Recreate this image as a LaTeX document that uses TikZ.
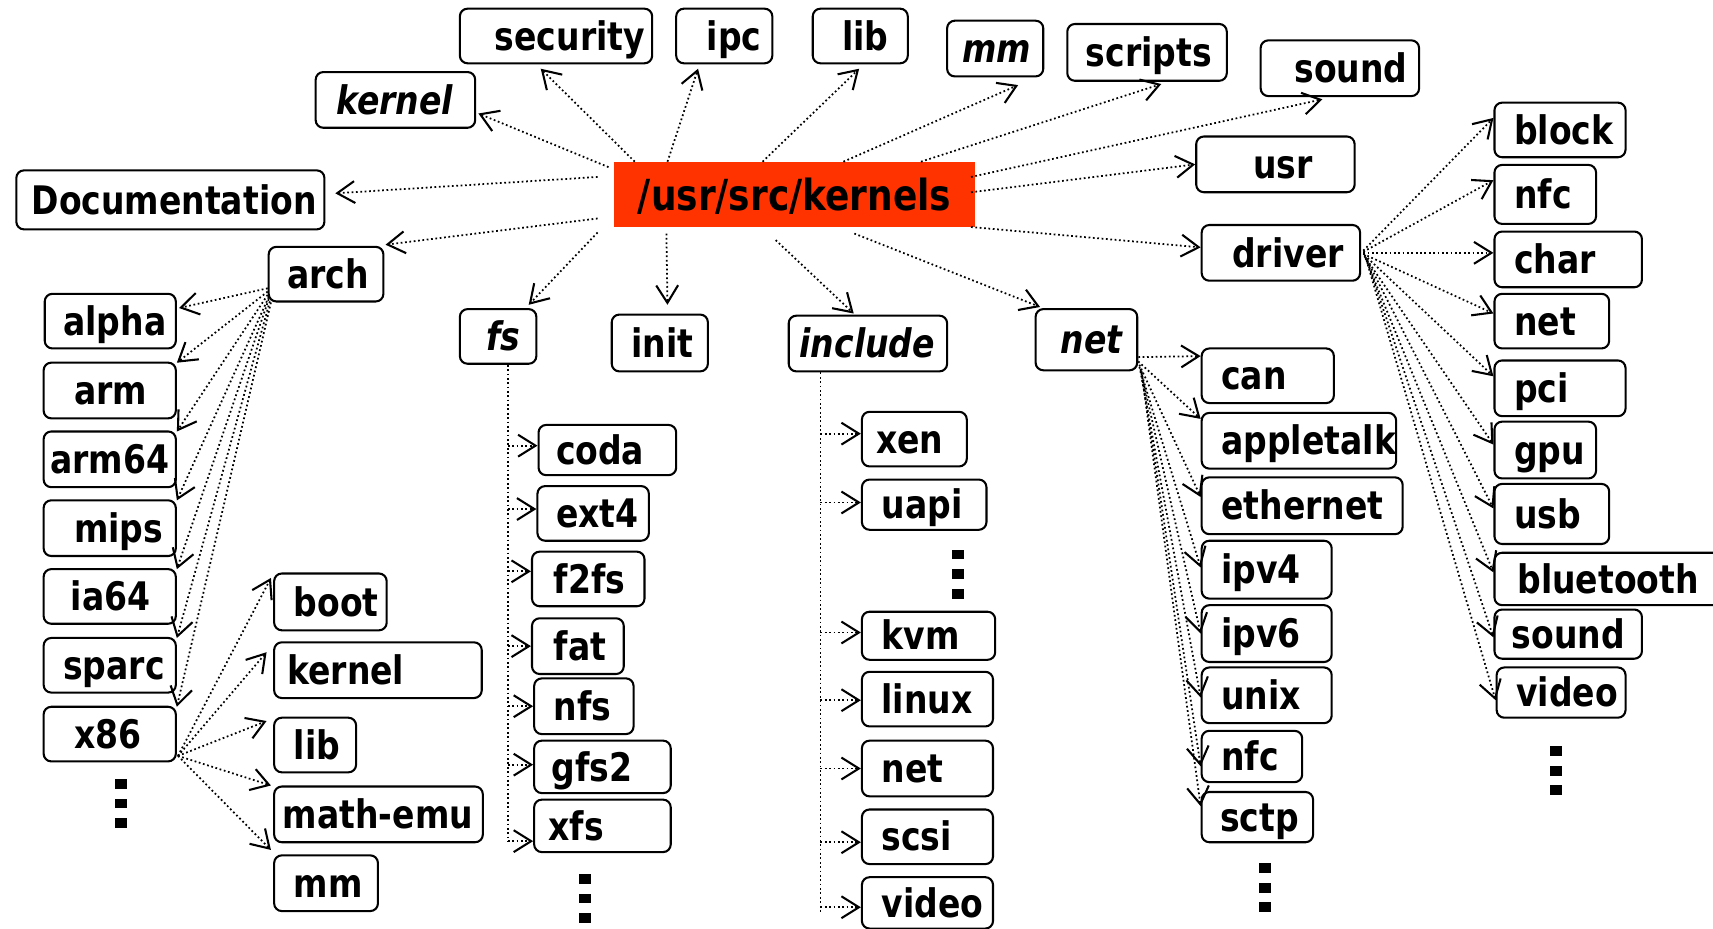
\documentclass[tikz,border=0pt]{standalone}
\usepackage{fontspec}
\newfontfamily\bxfont{DejaVu Sans}[FakeStretch=0.84]
\usetikzlibrary{arrows.meta}
\definecolor{rootred}{RGB}{255,51,0}
\newcommand\dbox[8][]{%
  \pgfmathsetmacro\bw{(#5-#3)*0.5}%
  \pgfmathsetmacro\bh{(#6-#4)*0.5}%
  \pgfmathsetmacro\bp{#7*0.5}%
  \node[box,#1,minimum width=\bw pt,minimum height=\bh pt,anchor=north west] (#2) at (#3,#4) {\makebox[\bw pt][l]{\hspace*{\bp pt}#8}};%
}
\newcommand\sqdots[2]{%
  \fill (#1,#2) rectangle ++(11,9);
  \fill (#1,#2+18) rectangle ++(11,9);
  \fill (#1,#2+36) rectangle ++(11,9);
}
\begin{document}
\begin{tikzpicture}[x=0.5pt,y=-0.5pt,
  box/.style={draw, line width=0.95pt, rounded corners=3.5pt, inner sep=0pt,
    text height=13pt, text depth=0pt,
    font=\bxfont\bfseries\fontsize{18}{20}\selectfont},
  it/.style={font=\bxfont\bfseries\itshape\fontsize{18}{20}\selectfont},
  dl/.style={line width=0.8pt, dash pattern=on 0.8pt off 1.2pt},
  arr/.style={dl, -{Straight Barb[length=8pt,width=10pt,line width=0.95pt]}},
]
\path[use as bounding box, fill=white] (0,0) rectangle (1568,850);

% root
\node[fill=rootred, inner sep=0pt, minimum width=165pt, minimum height=29.5pt,
  anchor=north west, text height=15pt, text depth=0pt,
  font=\bxfont\bfseries\fontsize{19.6}{22}\selectfont] (root) at (562,148) {/usr/src/kernels};

% top level
\dbox{sec}{420}{7}{596}{57}{32}{security}
\dbox{ipc}{618}{7}{706}{57}{28}{ipc}
\dbox{libt}{743}{7}{830}{57}{27}{lib}
\dbox[it]{mmt}{866}{18}{954}{69}{14}{mm}
\dbox{scr}{976}{21}{1122}{73}{17}{scripts}
\dbox{snd}{1153}{36}{1298}{87}{31}{sound}
\dbox[it]{kern}{288}{65}{434}{116}{19}{kernel}
\dbox{doc}{14}{155}{296}{209}{14}{Documentation}
\dbox{usr}{1094}{124}{1239}{175}{52}{usr}
\dbox{drv}{1099}{205}{1244}{256}{28}{driver}
\dbox{arch}{245}{225}{350}{275}{17}{arch}
\dbox[it]{fs}{420}{282}{490}{332}{24}{fs}
\dbox{init}{559}{287}{647}{339}{18}{init}
\dbox[it]{incl}{721}{288}{866}{339}{10}{include}
\dbox[it]{net}{947}{282}{1040}{338}{23}{net}

% arch children
\dbox{alpha}{40}{268}{160}{318}{17}{alpha}
\dbox{arm}{39}{331}{160}{382}{28}{arm}
\dbox{armsf}{39}{394}{160}{445}{6}{arm64}
\dbox{mips}{39}{457}{160}{508}{28}{mips}
\dbox{ia}{39}{520}{160}{570}{25}{ia64}
\dbox{sparc}{39}{583}{160}{633}{18}{sparc}
\dbox{xes}{39}{646}{160}{696}{28}{x86}
\sqdots{105}{713}

% x86 children
\dbox{boot}{250}{524}{353}{576}{18}{boot}
\dbox{xkern}{250}{587}{440}{638}{12}{kernel}
\dbox{xlib}{250}{656}{325}{706}{18}{lib}
\dbox{memu}{250}{719}{441}{770}{8}{math-emu}
\dbox{xmm}{250}{782}{345}{833}{18}{mm}

% fs children
\dbox{coda}{492}{388}{618}{434}{16}{coda}
\dbox{ext}{491}{444}{593}{494}{17}{ext4}
\dbox{ftfs}{486}{504}{589}{554}{20}{f2fs}
\dbox{fat}{486}{565}{570}{616}{20}{fat}
\dbox{nfs}{488}{620}{579}{671}{18}{nfs}
\dbox{gfs}{488}{677}{613}{725}{16}{gfs2}
\dbox{xfs}{488}{731}{613}{779}{13}{xfs}
\sqdots{530}{800}

% include children
\dbox{xen}{788}{376}{884}{426}{13}{xen}
\dbox{uapi}{788}{438}{902}{484}{18}{uapi}
\sqdots{871}{503}
\dbox{kvm}{788}{559}{910}{603}{18}{kvm}
\dbox{linux}{788}{614}{908}{664}{18}{linux}
\dbox{inet}{788}{677}{908}{728}{18}{net}
\dbox{scsi}{788}{740}{908}{790}{18}{scsi}
\dbox{ivid}{788}{802}{908}{849}{18}{video}

% net children
\dbox{can}{1099}{318}{1220}{368}{18}{can}
\dbox{atalk}{1099}{377}{1277}{428}{18}{appletalk}
\dbox{eth}{1099}{436}{1283}{488}{18}{ethernet}
\dbox{ipf}{1099}{494}{1218}{547}{18}{ipv4}
\dbox{ips}{1099}{553}{1218}{605}{18}{ipv6}
\dbox{unix}{1099}{610}{1218}{661}{18}{unix}
\dbox{nnfc}{1099}{668}{1191}{715}{18}{nfc}
\dbox{sctp}{1099}{724}{1201}{770}{17}{sctp}
\sqdots{1152}{790}

% driver children
\dbox{block}{1367}{93}{1487}{143}{18}{block}
\dbox{dnfc}{1367}{150}{1460}{204}{18}{nfc}
\dbox{char}{1367}{211}{1502}{262}{18}{char}
\dbox{dnet}{1367}{268}{1472}{318}{18}{net}
\dbox{pci}{1367}{329}{1487}{380}{18}{pci}
\dbox{gpu}{1367}{385}{1460}{437}{18}{gpu}
\dbox{usb}{1367}{442}{1472}{497}{18}{usb}
\dbox{bt}{1367}{505}{1580}{553}{21}{bluetooth}
\dbox{dsnd}{1367}{557}{1502}{602}{16}{sound}
\dbox{dvid}{1369}{610}{1487}{656}{18}{video}
\sqdots{1419}{683}

% root arrows
\draw[arr] ([shift={(-5,5)}]root.north west) -- ([shift={(2,-14)}]kern.south east);
\draw[arr] ([shift={(19,0)}]root.north west) -- ([shift={(-14,4)}]sec.south);
\draw[arr] ([shift={(49,0)}]root.north west) -- ([shift={(-24,4)}]ipc.south);
\draw[arr] ([shift={(136,0)}]root.north west) -- ([shift={(-1,4)}]libt.south);
\draw[arr] ([shift={(210,0)}]root.north west) -- ([shift={(21,7)}]mmt.south);
\draw[arr] ([shift={(281,0)}]root.north west) -- ([shift={(13,2)}]scr.south);
\draw[arr] ([shift={(-4,14)}]root.north east) -- ([shift={(-16,2)}]snd.south);
\draw[arr] ([shift={(-4,28)}]root.north east) -- (usr.west);
\draw[arr] ([shift={(-4,0)}]root.south east) -- ([shift={(0,-5)}]drv.west);
\draw[arr] ([shift={(220,6)}]root.south west) -- ([shift={(5,-1)}]net.north west);
\draw[arr] ([shift={(148,12)}]root.south west) -- ([shift={(-13,-1)}]incl.north);
\draw[arr] ([shift={(48,6)}]root.south west) -- ([shift={(7,-8)}]init.north);
\draw[arr] ([shift={(-15,5)}]root.south west) -- ([shift={(28,-3)}]fs.north);
\draw[arr] ([shift={(-15,52)}]root.north west) -- ([shift={(1,-1)}]arch.north east);
\draw[arr] ([shift={(-15,14)}]root.north west) -- ([shift={(9,-6)}]doc.east);

% arch arrows
\draw[arr] ([shift={(0,-13)}]arch.south west) -- ([shift={(2,-12)}]alpha.east);
\draw[arr] ([shift={(0,-10)}]arch.south west) -- ([shift={(0,1)}]arm.north east);
\draw[arr] ([shift={(0,-7)}]arch.south west) -- ([shift={(0,1)}]armsf.north east);
\draw[arr] ([shift={(1,-5)}]arch.south west) -- ([shift={(0,1)}]mips.north east);
\draw[arr] ([shift={(1,-3)}]arch.south west) -- ([shift={(0,1)}]ia.north east);
\draw[arr] ([shift={(2,-1)}]arch.south west) -- ([shift={(0,1)}]sparc.north east);
\draw[arr] ([shift={(3,0)}]arch.south west) -- ([shift={(0,1)}]xes.north east);

% x86 arrows
\draw[arr] ([shift={(1,-6)}]xes.south east) -- ([shift={(-2,5)}]boot.north west);
\draw[arr] ([shift={(1,-6)}]xes.south east) -- ([shift={(-6,10)}]xkern.north west);
\draw[arr] ([shift={(1,-6)}]xes.south east) -- ([shift={(-6,4)}]xlib.north west);
\draw[arr] ([shift={(1,-6)}]xes.south east) -- ([shift={(-2,0)}]memu.north west);
\draw[arr] ([shift={(1,-6)}]xes.south east) -- ([shift={(-2,-4)}]xmm.north west);

% fs tree
\coordinate (fsb) at ([shift={(9,0)}]fs.south);
\coordinate (e1) at ([shift={(0,-4)}]coda.west);
\coordinate (e2) at ([shift={(0,-4)}]ext.west);
\coordinate (e3) at ([shift={(0,-7)}]ftfs.west);
\coordinate (e4) at ([shift={(0,0)}]fat.west);
\coordinate (e5) at ([shift={(0,0)}]nfs.west);
\coordinate (e6) at ([shift={(0,-2)}]gfs.west);
\coordinate (e7) at ([shift={(0,14)}]xfs.west);
\draw[dl] (fsb) -- (fsb |- e7);
\foreach \e in {e1,e2,e3,e4,e5,e6,e7} \draw[arr] (fsb |- \e) -- (\e);

% include tree
\coordinate (inb) at ([shift={(30,0)}]incl.south west);
\coordinate (i1) at ([shift={(0,-5)}]xen.west);
\coordinate (i2) at ([shift={(0,-2)}]uapi.west);
\coordinate (i3) at ([shift={(0,-3)}]kvm.west);
\coordinate (i4) at ([shift={(0,1)}]linux.west);
\coordinate (i5) at ([shift={(0,0)}]inet.west);
\coordinate (i6) at ([shift={(0,5)}]scsi.west);
\coordinate (i7) at ([shift={(0,4)}]ivid.west);
\draw[dl] (inb) -- ([shift={(0,5)}]inb |- i7);
\foreach \e in {i1,i2,i3,i4,i5,i6,i7} \draw[arr] (inb |- \e) -- (\e);

% net arrows
\draw[arr] ([shift={(0,-13)}]net.south east) -- ([shift={(0,-18)}]can.west);
\draw[arr] ([shift={(0,-9)}]net.south east) -- ([shift={(0,-20)}]atalk.west);
\draw[arr] ([shift={(1,-6)}]net.south east) -- ([shift={(0,-8)}]eth.west);
\draw[arr] ([shift={(1,-4)}]net.south east) -- ([shift={(0,-2)}]ipf.west);
\draw[arr] ([shift={(2,-2)}]net.south east) -- ([shift={(0,0)}]ips.west);
\draw[arr] ([shift={(2,0)}]net.south east) -- ([shift={(0,2)}]unix.west);
\draw[arr] ([shift={(3,0)}]net.south east) -- ([shift={(0,9)}]nnfc.west);
\draw[arr] ([shift={(3,1)}]net.south east) -- ([shift={(0,-10)}]sctp.west);

% driver arrows
\draw[arr] ([shift={(2,-2)}]drv.east) -- ([shift={(0,-11)}]block.west);
\draw[arr] ([shift={(2,-1)}]drv.east) -- ([shift={(0,-13)}]dnfc.west);
\draw[arr] ([shift={(2,0)}]drv.east) -- ([shift={(0,-6)}]char.west);
\draw[arr] ([shift={(2,1)}]drv.east) -- ([shift={(0,-7)}]dnet.west);
\draw[arr] ([shift={(3,2)}]drv.east) -- ([shift={(0,-11)}]pci.west);
\draw[arr] ([shift={(3,3)}]drv.east) -- ([shift={(0,-5)}]gpu.west);
\draw[arr] ([shift={(4,4)}]drv.east) -- ([shift={(0,-5)}]usb.west);
\draw[arr] ([shift={(4,5)}]drv.east) -- ([shift={(0,-6)}]bt.west);
\draw[arr] ([shift={(5,6)}]drv.east) -- ([shift={(0,3)}]dsnd.west);
\draw[arr] ([shift={(5,7)}]drv.east) -- ([shift={(0,7)}]dvid.west);
\end{tikzpicture}
\end{document}
